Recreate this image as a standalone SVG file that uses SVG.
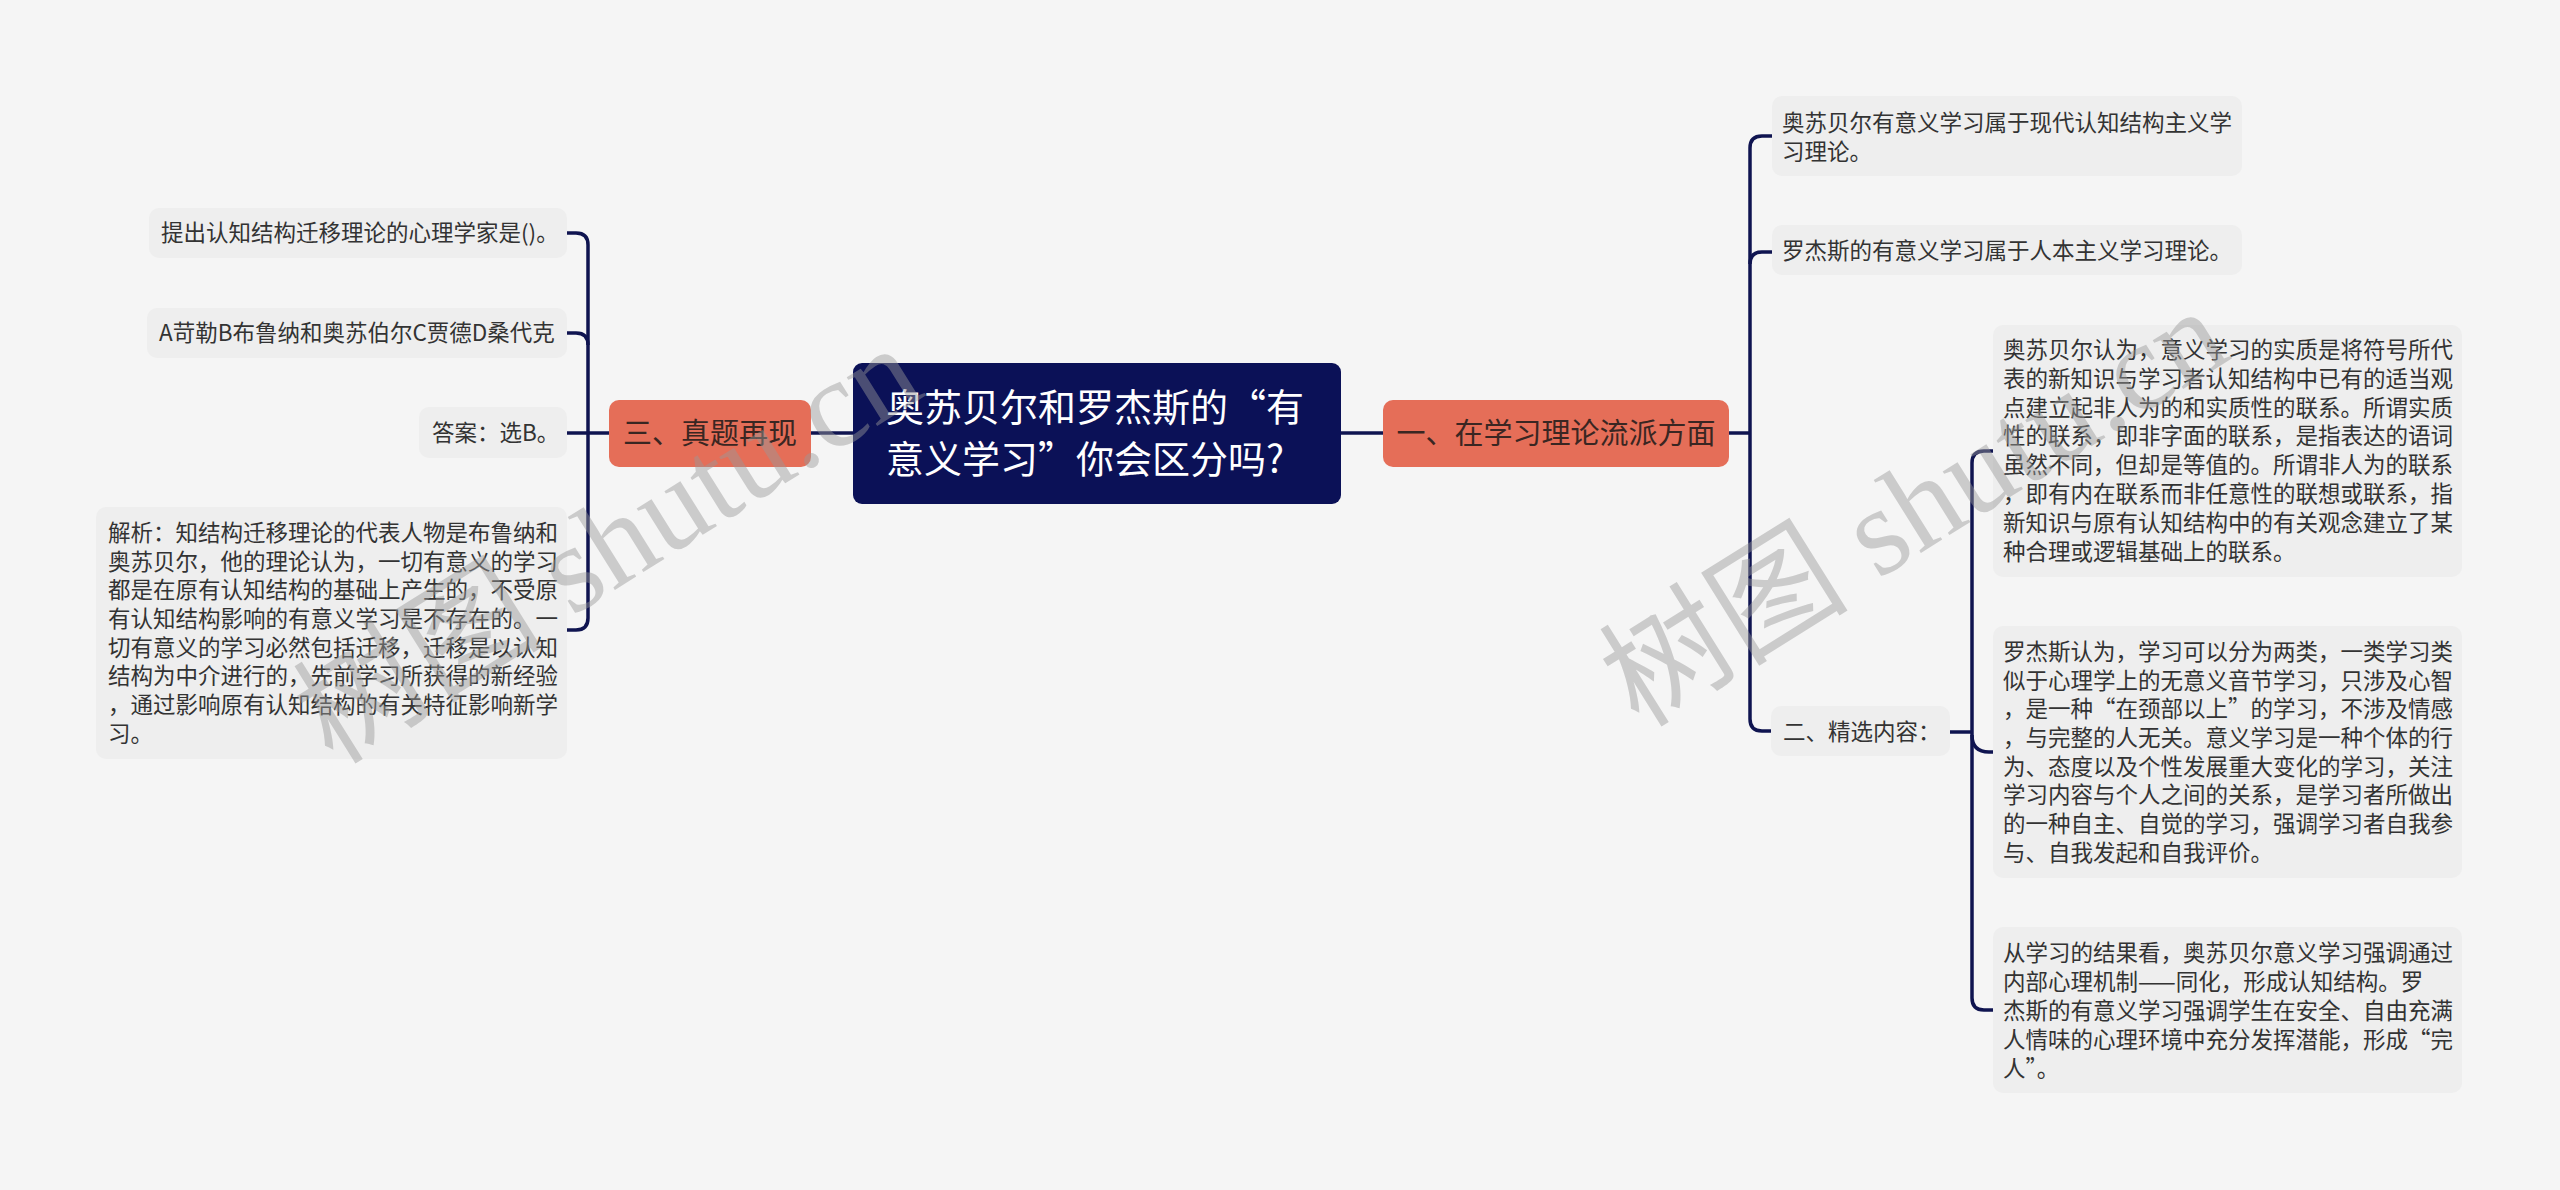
<svg xmlns="http://www.w3.org/2000/svg" width="2560" height="1190" viewBox="0 0 2560 1190">
<style>
.bg{fill:#f5f5f5}
.leaf{fill:#eeeeee}
.branch{fill:#e56e58}
.root{fill:#0b1157}
.t{font-family:'Noto Sans CJK SC','Noto Sans',sans-serif;font-size:22.5px;fill:#333333}
.tb{font-family:'Noto Sans CJK SC','Noto Sans',sans-serif;font-size:29px;fill:#3a2622;text-anchor:middle}
.tr{font-family:'Noto Sans CJK SC','Noto Sans',sans-serif;font-size:38px;fill:#ffffff}
.c{fill:none;stroke:#0f1450;stroke-width:3.5;stroke-linecap:butt}
.wm{font-family:'Liberation Serif','Noto Sans CJK SC',serif;font-size:125px;fill:#999999;opacity:0.45}
</style>
<rect class="bg" x="0" y="0" width="2560" height="1190"/>

<g id="connectors">
<path class="c" d="M853,433 H811"/>
<path class="c" d="M609,433 H567"/>
<path class="c" d="M567,233 H576 Q588,233 588,245 V618 Q588,630 576,630 H567"/>
<path class="c" d="M567,333 H576 Q588,333 588,345"/>
<path class="c" d="M1341,433 H1383"/>
<path class="c" d="M1729,433 H1750"/>
<path class="c" d="M1772,136 H1762 Q1750,136 1750,148 V719 Q1750,731 1762,731 H1771"/>
<path class="c" d="M1772,252 H1762 Q1750,252 1750,264"/>
<path class="c" d="M1950,732 H1972"/>
<path class="c" d="M1993,451 H1984 Q1972,451 1972,463 V998 Q1972,1010 1984,1010 H1993"/>
<path class="c" d="M1972,735 Q1972,752 1989,752 H1993"/>
</g>

<g id="root">
<rect class="root" x="853" y="363" width="488" height="141" rx="9"/>
<text class="tr" x="886" y="421">奥苏贝尔和罗杰斯的“有</text>
<text class="tr" x="886" y="473">意义学习”你会区分吗?</text>
</g>

<g id="branch-1">
<rect class="branch" x="1383" y="400" width="346" height="67" rx="10"/>
<text class="tb" x="1556" y="444">一、在学习理论流派方面</text>
</g>

<g id="branch-3">
<rect class="branch" x="609" y="400" width="202" height="67" rx="10"/>
<text class="tb" x="710" y="444">三、真题再现</text>
</g>

<g id="q1">
<rect class="leaf" x="149" y="208" width="418" height="50" rx="10"/>
<text class="t" x="161" y="241">提出认知结构迁移理论的心理学家是()。</text>
</g>
<g id="q2">
<rect class="leaf" x="147" y="308" width="420" height="50" rx="10"/>
<text class="t" x="159" y="341">A苛勒B布鲁纳和奥苏伯尔C贾德D桑代克</text>
</g>
<g id="q3">
<rect class="leaf" x="419" y="407" width="148" height="51" rx="10"/>
<text class="t" x="432" y="441">答案：选B。</text>
</g>
<g id="q4">
<rect class="leaf" x="96" y="507" width="471" height="252" rx="10"/>
<text class="t" x="108" y="541">解析：知结构迁移理论的代表人物是布鲁纳和</text>
<text class="t" x="108" y="570">奥苏贝尔，他的理论认为，一切有意义的学习</text>
<text class="t" x="108" y="598">都是在原有认知结构的基础上产生的，不受原</text>
<text class="t" x="108" y="627">有认知结构影响的有意义学习是不存在的。一</text>
<text class="t" x="108" y="656">切有意义的学习必然包括迁移，迁移是以认知</text>
<text class="t" x="108" y="684">结构为中介进行的，先前学习所获得的新经验</text>
<text class="t" x="108" y="713">，通过影响原有认知结构的有关特征影响新学</text>
<text class="t" x="108" y="742">习。</text>
</g>

<g id="r1">
<rect class="leaf" x="1772" y="96" width="470" height="80" rx="10"/>
<text class="t" x="1782" y="131">奥苏贝尔有意义学习属于现代认知结构主义学</text>
<text class="t" x="1782" y="160">习理论。</text>
</g>
<g id="r2">
<rect class="leaf" x="1772" y="225" width="470" height="50" rx="10"/>
<text class="t" x="1782" y="259">罗杰斯的有意义学习属于人本主义学习理论。</text>
</g>
<g id="r3">
<rect class="leaf" x="1771" y="706" width="179" height="50" rx="10"/>
<text class="t" x="1783" y="740">二、精选内容：</text>
</g>

<g id="s1">
<rect class="leaf" x="1993" y="325" width="469" height="252" rx="10"/>
<text class="t" x="2003" y="358">奥苏贝尔认为，意义学习的实质是将符号所代</text>
<text class="t" x="2003" y="387">表的新知识与学习者认知结构中已有的适当观</text>
<text class="t" x="2003" y="416">点建立起非人为的和实质性的联系。所谓实质</text>
<text class="t" x="2003" y="444">性的联系，即非字面的联系，是指表达的语词</text>
<text class="t" x="2003" y="473">虽然不同，但却是等值的。所谓非人为的联系</text>
<text class="t" x="2003" y="502">，即有内在联系而非任意性的联想或联系，指</text>
<text class="t" x="2003" y="531">新知识与原有认知结构中的有关观念建立了某</text>
<text class="t" x="2003" y="560">种合理或逻辑基础上的联系。</text>
</g>
<g id="s2">
<rect class="leaf" x="1993" y="626" width="469" height="252" rx="10"/>
<text class="t" x="2003" y="660">罗杰斯认为，学习可以分为两类，一类学习类</text>
<text class="t" x="2003" y="689">似于心理学上的无意义音节学习，只涉及心智</text>
<text class="t" x="2003" y="717">，是一种“在颈部以上”的学习，不涉及情感</text>
<text class="t" x="2003" y="746">，与完整的人无关。意义学习是一种个体的行</text>
<text class="t" x="2003" y="775">为、态度以及个性发展重大变化的学习，关注</text>
<text class="t" x="2003" y="803">学习内容与个人之间的关系，是学习者所做出</text>
<text class="t" x="2003" y="832">的一种自主、自觉的学习，强调学习者自我参</text>
<text class="t" x="2003" y="861">与、自我发起和自我评价。</text>
</g>
<g id="s3">
<rect class="leaf" x="1993" y="927" width="469" height="166" rx="10"/>
<text class="t" x="2003" y="961">从学习的结果看，奥苏贝尔意义学习强调通过</text>
<text class="t" x="2003" y="990">内部心理机制——同化，形成认知结构。罗</text>
<text class="t" x="2003" y="1019">杰斯的有意义学习强调学生在安全、自由充满</text>
<text class="t" x="2003" y="1048">人情味的心理环境中充分发挥潜能，形成“完</text>
<text class="t" x="2003" y="1077">人”。</text>
</g>

<g id="watermarks">
<text class="wm" transform="translate(333,766) rotate(-32)">树图 shutu.cn</text>
<text class="wm" transform="translate(1639,729) rotate(-32)">树图 shutu.cn</text>
</g>
</svg>
